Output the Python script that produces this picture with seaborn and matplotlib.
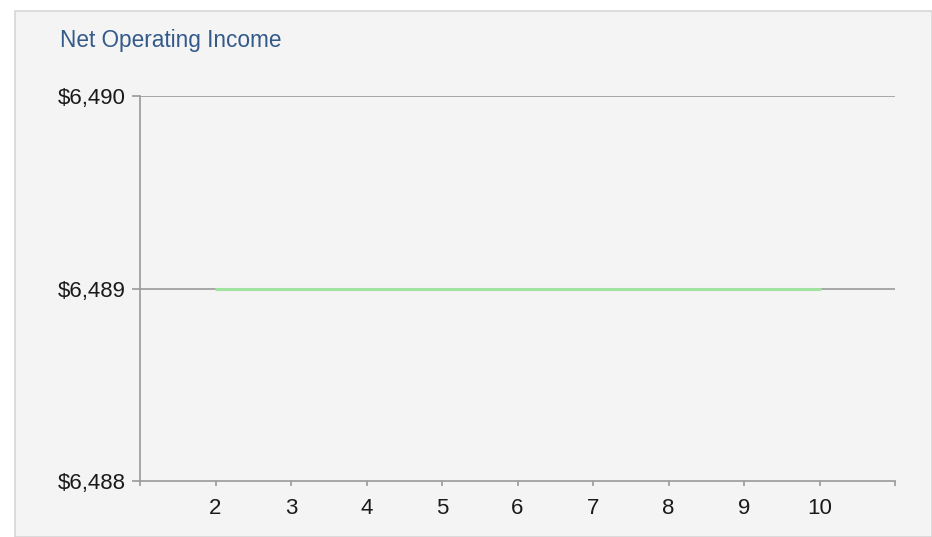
import matplotlib
matplotlib.use("Agg")
import matplotlib.pyplot as plt
from matplotlib.patches import Rectangle
import seaborn as sns
import pandas as pd

years = [2, 3, 4, 5, 6, 7, 8, 9, 10]
noi = [6489, 6489, 6489, 6489, 6489, 6489, 6489, 6489, 6489]
y_ticks = [6488, 6489, 6490]
x_ticks = [1, 2, 3, 4, 5, 6, 7, 8, 9, 10, 11]
x_labels = ["", "2", "3", "4", "5", "6", "7", "8", "9", "10", ""]

sns.set_style("white")
plt.rcParams["font.family"] = ["Liberation Sans", "DejaVu Sans"]

W, H = 932, 537
fig = plt.figure(figsize=(W / 100, H / 100), dpi=100, facecolor="white")
fig.patches.append(Rectangle((14.5 / W, 0), (W - 14.5) / W, (H - 10.5) / H,
                             transform=fig.transFigure, facecolor="#f4f4f4",
                             edgecolor="#d6d6d6", linewidth=1.2, zorder=-5))

ax = fig.add_axes([140 / W, 1 - 481 / H, (895 - 140) / W, (481 - 96) / H])
ax.set_facecolor("none")
ax.set_zorder(2)

df = pd.DataFrame({"year": years, "noi": noi})
for yv in [6489, 6490]:
    ax.axhline(yv, color="#999999", linewidth=1.2, zorder=1)
sns.lineplot(data=df, x="year", y="noi", ax=ax, color="#a0e3a0", linewidth=2.2, zorder=3)

ax.set_xlim(1, 11)
ax.set_ylim(6488, 6490)
ax.set_xticks(x_ticks)
ax.set_xticklabels(x_labels)
ax.set_yticks(y_ticks)
ax.set_yticklabels([f"${v:,.0f}" for v in y_ticks])
ax.set_xlabel("")
ax.set_ylabel("")

for side in ["top", "right"]:
    ax.spines[side].set_visible(False)
for side in ["left", "bottom"]:
    ax.spines[side].set_color("#999999")
    ax.spines[side].set_linewidth(1.2)

ax.tick_params(axis="both", which="both", direction="out", width=1.2,
               color="#999999", labelsize=16, labelcolor="#1a1a1a",
               bottom=True, left=True)
ax.tick_params(axis="x", length=3.6, pad=9)
ax.tick_params(axis="y", length=6, pad=4)

fig.text(60 / W, 1 - 41 / H, "Net Operating Income", fontsize=16.3,
         color="#345a8a", ha="left", va="center")

fig.savefig("out.png", dpi=100, facecolor="white")
